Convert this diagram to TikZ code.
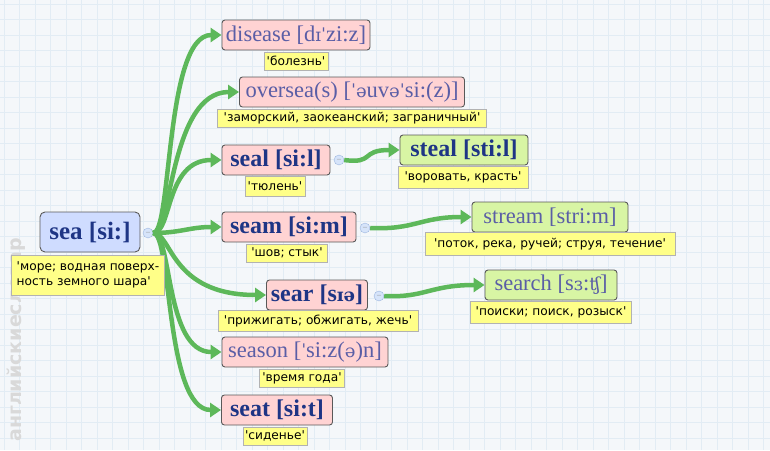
\documentclass[tikz,border=0pt]{standalone}
\usepackage{fontspec}
\setmainfont{Liberation Serif}
\newfontfamily\trfont{DejaVu Sans}
\newfontfamily\ipafont{DejaVu Serif}
\newfontfamily\wmfont{DejaVu Sans}
\usetikzlibrary{arrows.meta}
\definecolor{bgc}{HTML}{F4F7FA}
\definecolor{gridc}{HTML}{E2ECF4}
\definecolor{arr}{HTML}{5DB85A}
\definecolor{pinkc}{HTML}{FFD3D3}
\definecolor{greenc}{HTML}{D8F5A4}
\definecolor{bluec}{HTML}{CFDCFF}
\definecolor{yel}{HTML}{FFFF88}
\definecolor{darkw}{HTML}{1E3585}
\definecolor{lightw}{HTML}{5A5EA6}
\definecolor{circf}{HTML}{D6E4FA}
\definecolor{circd}{HTML}{9DB6DE}
\newcommand\ip[1]{{\ipafont\fontsize{18}{20}\selectfont #1}}
\newcommand\st{{\ipafont\fontsize{18}{20}\selectfont ˈ}}
\tikzset{
  word/.style={draw=black!65, line width=0.9pt, rounded corners=3pt, inner xsep=2pt, inner ysep=0pt,
     minimum height=30pt, font=\fontsize{22.5}{24}\selectfont},
  bword/.style={word, text=darkw, font=\fontsize{24}{26}\selectfont\bfseries},
  lword/.style={word, text=lightw},
  pinkw/.style={fill=pinkc},
  greenw/.style={fill=greenc},
  tr/.style={draw=black!30, fill=yel, inner xsep=1pt, inner ysep=1pt, minimum height=18pt,
     font=\trfont\fontsize{12.2}{15}\selectfont},
  circ/.style={circle, draw=circd, fill=circf, inner sep=0pt, minimum size=10pt,
     font=\fontsize{8}{8}\selectfont, text=black!45},
  link/.style={draw=arr, line width=4.5pt, -{Triangle[length=11pt,width=14pt]}},
}
\begin{document}
\begin{tikzpicture}[x=1pt,y=-1pt]
\useasboundingbox (0,0) rectangle (770,450);
\fill[bgc] (0,0) rectangle (770,450);
\foreach \i in {0,...,50} {\draw[gridc, line width=0.8pt] (4+15.5*\i,0) -- (4+15.5*\i,450);}
\foreach \j in {0,...,29} {\draw[gridc, line width=0.8pt] (0,4+15.5*\j) -- (770,4+15.5*\j);}

% watermark
\node[anchor=west, rotate=90, inner sep=0pt, text=black!15,
  font=\wmfont\bfseries\fontsize{19}{19}\selectfont] (wm) at (16,442) {английскиесловар};

% nodes
\node[bword, fill=bluec, minimum width=100pt, minimum height=40pt, rounded corners=5pt,
  font=\fontsize{25}{28}\selectfont\bfseries] (sea) at (90,232) {sea [si:]};
\node[circ] (seac) at (148,233) {--};

\node[lword, pinkw, minimum width=148pt] (disease) at (296,35) {disease [d\ip{ɪ}\st zi:z]};
\node[lword, pinkw, minimum width=225pt] (oversea) at (352,92) {oversea(s) [\st\ip{ə}uv\ip{ə}\st si:(z)]};
\node[bword, pinkw, minimum width=108pt] (seal) at (276,160) {seal [si:l]};
\node[circ] (sealc) at (339,160) {--};
\node[bword, greenw, minimum width=128pt] (steal) at (464,150) {steal [sti:l]};
\node[bword, pinkw, minimum width=134pt] (seam) at (289,227) {seam [si:m]};
\node[circ] (seamc) at (365,228) {--};
\node[lword, greenw, minimum width=156pt] (stream) at (550,217) {stream [stri:m]};
\node[bword, pinkw, minimum width=101pt] (sear) at (317,295) {sear [s\ip{ɪə}]};
\node[circ] (searc) at (379,296) {--};
\node[lword, greenw, minimum width=132pt] (search) at (551,285) {search [s\ip{ɜ}:\ip{ʧ}]};
\node[lword, pinkw, minimum width=166pt] (season) at (305,352) {season [\st si:z(\ip{ə})n]};
\node[bword, pinkw, minimum width=111pt] (seat) at (277,410) {seat [si:t]};

% connectors
\draw[link] (seac.east) .. controls (172,233) and (165,35) .. (disease.west);
\draw[link] (seac.east) .. controls (172,233) and (170,92) .. (oversea.west);
\draw[link] (seac.east) .. controls (172,233) and (165,160) .. (seal.west);
\draw[link] (seac.east) .. controls (180,233) and (190,227) .. (seam.west);
\draw[link] (seac.east) .. controls (172,233) and (170,295) .. (sear.west);
\draw[link] (seac.east) .. controls (172,233) and (165,352) .. (season.west);
\draw[link] (seac.east) .. controls (172,233) and (165,410) .. (seat.west);
\draw[link] (sealc.east) .. controls (375,164) and (360,150) .. (steal.west);
\draw[link] (seamc.east) .. controls (415,230) and (420,217) .. (stream.west);
\draw[link] (searc.east) .. controls (425,298) and (430,285) .. (search.west);

% translations
\node[tr, minimum width=153pt, minimum height=40pt, align=left] (seat2) at (88,275)
  {'море; водная поверх-\\ность земного шара'};
\node[tr, minimum width=64pt] (diseaset) at (296,61) {'болезнь'};
\node[tr, minimum width=269pt] (overseat) at (352,118) {'заморский, заокеанский; заграничный'};
\node[tr, minimum width=60pt, minimum height=20pt] (sealt) at (275,186) {'тюлень'};
\node[tr, minimum width=130pt, minimum height=22pt] (stealt) at (463,177) {'воровать, красть'};
\node[tr, minimum width=81pt] (seamt) at (287,253) {'шов; стык'};
\node[tr, minimum width=250pt, minimum height=23pt] (streamt) at (550,244) {'поток, река, ручей; струя, течение'};
\node[tr, minimum width=200pt, minimum height=21pt] (seart) at (318,321) {'прижигать; обжигать, жечь'};
\node[tr, minimum width=161pt, minimum height=22pt] (searcht) at (551,312) {'поиски; поиск, розыск'};
\node[tr, minimum width=85pt] (seasont) at (302,378) {'время года'};
\node[tr, minimum width=64pt] (seatt) at (275,436) {'сиденье'};
\end{tikzpicture}
\end{document}
